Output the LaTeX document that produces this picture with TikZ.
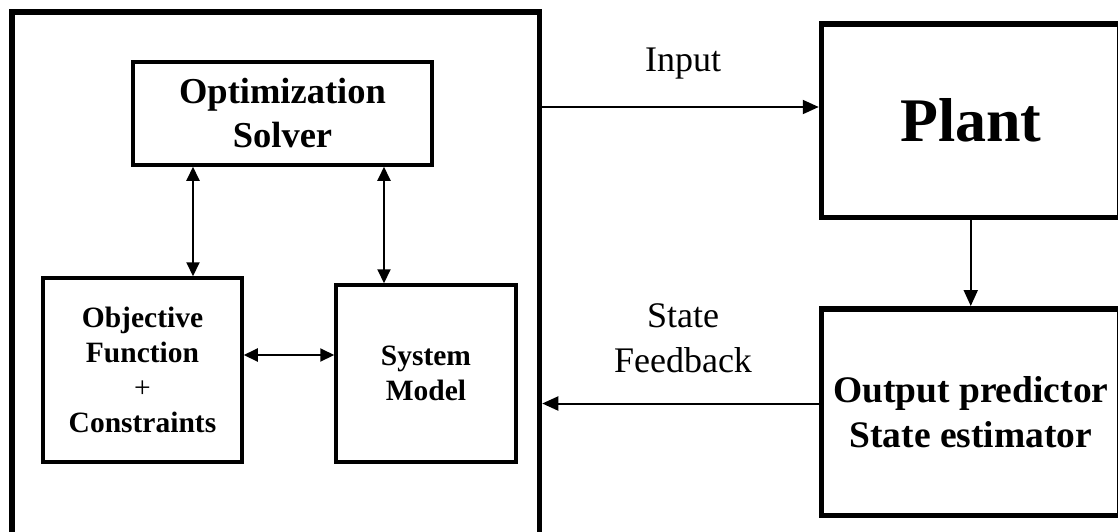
\documentclass[tikz,border=0pt]{standalone}
\usepackage{fontspec}
\setmainfont{Liberation Serif}
\usetikzlibrary{arrows.meta}
\tikzset{
  thickbox/.style={draw, line width=5.5pt, inner sep=0pt},
  innerbox/.style={draw, line width=3.5pt, inner sep=0pt, align=center},
  arr/.style={line width=2pt, -{Triangle[length=16pt,width=14pt]}},
  darr/.style={line width=2pt, {Triangle[length=14pt,width=13pt]}-{Triangle[length=14pt,width=13pt]}},
  lbl/.style={inner sep=0pt, align=center, font=\fontsize{36}{45}\selectfont}
}
\begin{document}
\begin{tikzpicture}[x=1pt,y=-1pt]
\useasboundingbox (0,0) rectangle (1118,531);
\clip (0,0) rectangle (1118,531);
\fill[white] (0,0) rectangle (1118,531);
% outer controller box
\node[thickbox, line width=5.5pt, minimum width=527.5pt, minimum height=540pt] (ctrl) at (275.75,282) {};
% inner boxes
\node[innerbox, minimum width=299pt, minimum height=103pt, font=\fontsize{36.5}{44}\selectfont\bfseries] (opt) at (282.5,113.5) {Optimization\\Solver};
\node[innerbox, minimum width=199pt, minimum height=184pt, font=\fontsize{29.5}{35}\selectfont\bfseries] (obj) at (142.5,370) {Objective\\Function\\\mdseries+\\Constraints};
\node[innerbox, minimum width=180pt, minimum height=177pt, font=\fontsize{29.5}{35}\selectfont\bfseries] (sm) at (426,373.5) {System\\Model};
% plant and estimator
\node[thickbox, minimum width=298.5pt, minimum height=193.5pt, font=\fontsize{62}{70}\selectfont\bfseries] (plant) at (970.75,120.75) {Plant};
\node[thickbox, minimum width=298.5pt, minimum height=206.5pt, align=center, font=\fontsize{37.5}{45}\selectfont\bfseries] (est) at (970.75,412) {Output predictor\\State estimator};
% helper coordinates
\coordinate (inY) at (0,107);
\coordinate (fbY) at (0,403.5);
\coordinate (a1) at (193,0);
\coordinate (a2) at (384,0);
\coordinate (hY) at (0,355);
% connectors
\draw[arr] (ctrl.east |- inY) -- (plant.west |- inY);
\draw[arr] (plant.south) -- (est.north);
\draw[arr] (est.west |- fbY) -- (ctrl.east |- fbY);
\draw[darr] (opt.south -| a1) -- (obj.north -| a1);
\draw[darr] (opt.south -| a2) -- (sm.north -| a2);
\draw[darr] (obj.east |- hY) -- (sm.west |- hY);
% labels
\node[lbl, anchor=base] (inlbl) at (683,71) {Input};
\node[lbl] (fblbl) at (683,338) {State\\Feedback};
\end{tikzpicture}
\end{document}
